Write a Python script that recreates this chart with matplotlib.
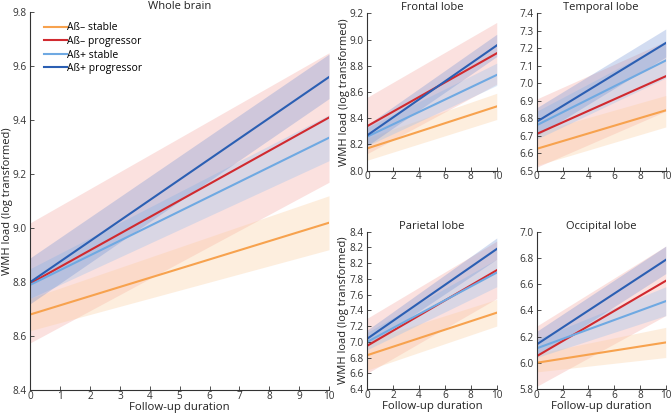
import numpy as np
import matplotlib.pyplot as plt

plt.rcParams['font.family'] = ['Open Sans', 'DejaVu Sans']

# Groups and colours
groups = ['A\u00df\u2013 stable', 'A\u00df\u2013 progressor', 'A\u00df+ stable', 'A\u00df+ progressor']
line_colors = ['#f7a24e', '#d12a2f', '#6fa9e2', '#2b5fb3']
band_colors = ['#fbcfa2', '#f4aaa5', '#9cc2ee', '#6a8ed2']
band_alpha = [0.35, 0.35, 0.35, 0.30]

years = [0, 10]

# fitted values at 0 and 10 years, per region (order follows groups)
whole_fit = [[8.68, 9.02], [8.795, 9.41], [8.79, 9.335], [8.80, 9.56]]
whole_lo = [[8.62, 8.92], [8.575, 9.17], [8.74, 9.25], [8.72, 9.48]]
whole_hi = [[8.74, 9.12], [9.02, 9.65], [8.85, 9.42], [8.89, 9.645]]

frontal_fit = [[8.17, 8.49], [8.34, 8.895], [8.26, 8.73], [8.27, 8.955]]
frontal_lo = [[8.08, 8.39], [8.13, 8.66], [8.19, 8.65], [8.19, 8.87]]
frontal_hi = [[8.25, 8.59], [8.56, 9.13], [8.33, 8.82], [8.35, 9.04]]

temporal_fit = [[6.625, 6.845], [6.71, 7.04], [6.76, 7.13], [6.78, 7.23]]
temporal_lo = [[6.53, 6.75], [6.52, 6.84], [6.68, 7.03], [6.70, 7.15]]
temporal_hi = [[6.72, 6.93], [6.91, 7.24], [6.84, 7.23], [6.86, 7.31]]

parietal_fit = [[6.83, 7.37], [6.95, 7.91], [7.00, 7.88], [7.04, 8.18]]
parietal_lo = [[6.64, 7.20], [6.60, 7.55], [6.90, 7.70], [6.95, 8.05]]
parietal_hi = [[7.02, 7.54], [7.30, 8.28], [7.12, 8.05], [7.15, 8.32]]

occipital_fit = [[6.00, 6.155], [6.05, 6.625], [6.11, 6.47], [6.14, 6.785]]
occipital_lo = [[5.93, 6.04], [5.82, 6.36], [6.04, 6.36], [6.05, 6.68]]
occipital_hi = [[6.07, 6.27], [6.28, 6.89], [6.18, 6.58], [6.24, 6.89]]

fig = plt.figure(figsize=(6.72, 4.15), dpi=100)

panels = [
    ('Whole brain', [0.0451, 0.0602, 0.4445, 0.9102], whole_fit, whole_lo, whole_hi,
     (8.4, 9.8), np.arange(8.4, 9.81, 0.2), None, 1, True, True),
    ('Frontal lobe', [0.5466, 0.5887, 0.1926, 0.3793], frontal_fit, frontal_lo, frontal_hi,
     (8.0, 9.2), np.arange(8.0, 9.21, 0.2), None, 2, True, False),
    ('Temporal lobe', [0.7987, 0.5887, 0.1920, 0.3793], temporal_fit, temporal_lo, temporal_hi,
     (6.5, 7.4), np.arange(6.5, 7.41, 0.1), None, 2, False, False),
    ('Parietal lobe', [0.5466, 0.0627, 0.1926, 0.379], parietal_fit, parietal_lo, parietal_hi,
     (6.4, 8.4), np.arange(6.4, 8.41, 0.2),
     ['6.4', '6.6', '6.8', '7.0', '7.2', '7.4', '7.6', '7.8', '8.2', '8.2', '8.4'], 2, True, True),
    ('Occipital lobe', [0.7987, 0.0627, 0.1920, 0.379], occipital_fit, occipital_lo, occipital_hi,
     (5.8, 7.0), np.arange(5.8, 7.01, 0.2), None, 2, False, True),
]

for title, pos, fit, lo, hi, ylim, yticks, ylabels, xstep, show_ylab, show_xlab in panels:
    ax = fig.add_axes(pos)
    # bands first (red band underneath)
    for i in [1, 0, 2, 3]:
        ax.fill_between(years, lo[i], hi[i], color=band_colors[i], alpha=band_alpha[i], lw=0)
    for i in range(4):
        ax.plot(years, fit[i], color=line_colors[i], lw=1.5, label=groups[i])
    ax.set_xlim(0, 10)
    ax.set_ylim(*ylim)
    ax.set_xticks(np.arange(0, 10.1, xstep))
    ax.set_yticks(yticks)
    if ylabels is None:
        ax.set_yticklabels(['%.1f' % v for v in yticks])
    else:
        ax.set_yticklabels(ylabels)
    ax.spines['top'].set_visible(False)
    ax.spines['right'].set_visible(False)
    for s in ['left', 'bottom']:
        ax.spines[s].set_color('#333333')
        ax.spines[s].set_linewidth(0.8)
    ax.tick_params(direction='in', length=3, width=0.6, labelsize=7.2, colors='#333333')
    ax.tick_params(axis='x', pad=0.5)
    ax.tick_params(axis='y', pad=2.5)
    ax.set_title(title, fontsize=8, pad=2, color='#222222')
    if show_ylab:
        ax.set_ylabel('WMH load (log transformed)', fontsize=8, labelpad=0, color='#222222')
    if show_xlab:
        ax.set_xlabel('Follow-up duration', fontsize=8.2, labelpad=0, color='#222222')
    if title == 'Whole brain':
        ax.legend(loc='upper left', frameon=False, fontsize=7.5, handlelength=2.2,
                  handletextpad=0.0, labelspacing=0.25, borderaxespad=0.2,
                  bbox_to_anchor=(0.025, 0.99))

fig.savefig('out.png', dpi=100)
